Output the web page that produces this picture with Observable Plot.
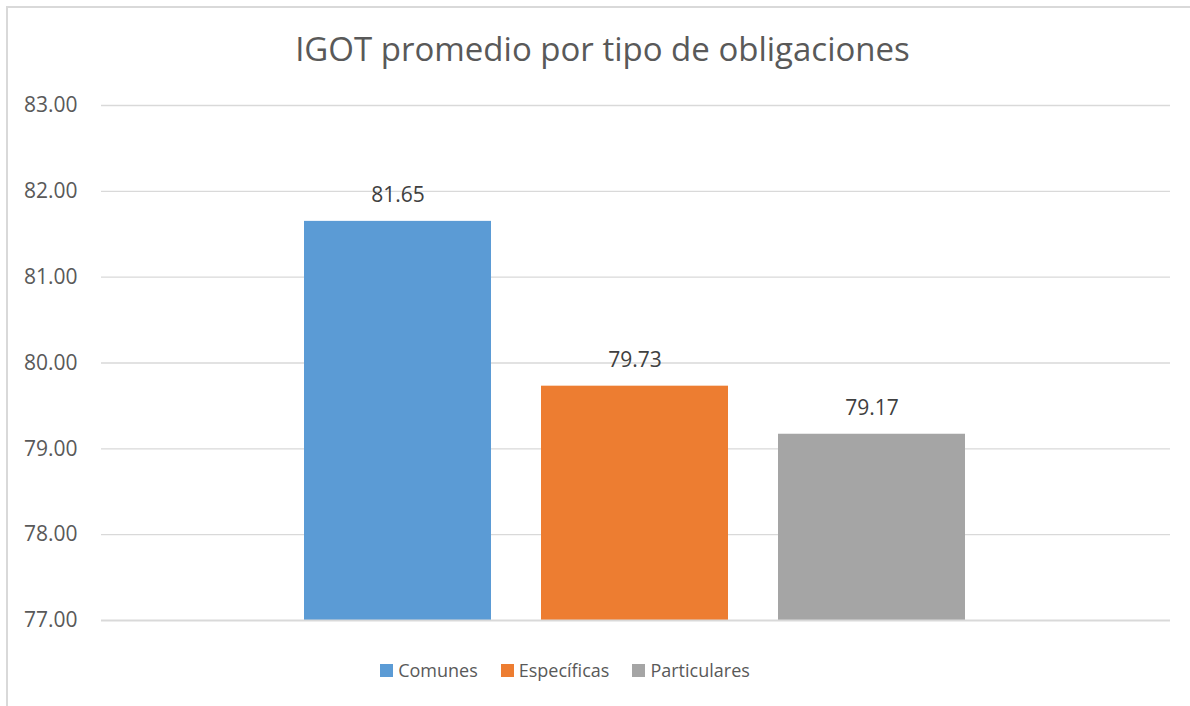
<!DOCTYPE html>
<html>
<head>
<meta charset="utf-8">
<script src="https://cdn.jsdelivr.net/npm/d3@7"></script>
<script src="https://cdn.jsdelivr.net/npm/@observablehq/plot@0.6"></script>
<style>
  html, body { margin: 0; padding: 0; background: #fff; }
  body { width: 1190px; height: 706px; overflow: hidden; position: relative; font-family: "Open Sans", Lato, sans-serif; }
  #frame { position: absolute; left: 6px; top: 6px; width: 1200px; height: 720px; border-left: 2px solid #d9d9d9; border-top: 2px solid #d9d9d9; box-sizing: border-box; }
  #title { position: absolute; left: 0; width: 1205px; top: 26px; text-align: center; font-size: 33px; color: #595959; letter-spacing: 0px; }
  #chart { position: absolute; left: 0; top: 0; }
  #legend { position: absolute; top: 658px; left: 0; width: 1130px; display: flex; justify-content: center; gap: 23px; font-size: 18px; color: #595959; }
  .item { display: flex; align-items: center; gap: 5px; }
  .sw { width: 13px; height: 13px; display: inline-block; }
</style>
</head>
<body>
<div id="frame"></div>
<div id="chart"></div>
<div id="title"></div>
<div id="legend"></div>
<script>
const titleText = "IGOT promedio por tipo de obligaciones";
const categories = ["Comunes", "Específicas", "Particulares"];
const values = [81.65, 79.73, 79.17];
const colors = ["#5B9BD5", "#ED7D31", "#A5A5A5"];
const yTicks = [77, 78, 79, 80, 81, 82, 83];

const data = categories.map((c, i) => ({cat: c, value: values[i]}));

document.getElementById("title").textContent = titleText;

const chart = Plot.plot({
  width: 1190,
  height: 706,
  marginLeft: 101,
  marginRight: 20,
  marginTop: 105,
  marginBottom: 86,
  style: {fontFamily: "'Open Sans', Lato, sans-serif", fontSize: "18px", color: "#595959", background: "transparent", overflow: "visible"},
  x: {domain: categories, range: [279, 990], paddingInner: 0.211, paddingOuter: 0.1055, axis: null},
  y: {domain: [77, 83], axis: null},
  color: {domain: categories, range: colors},
  marks: [
    Plot.ruleY(yTicks.filter(d => d !== 77), {stroke: "#d9d9d9", strokeWidth: 1.3}),
    Plot.barY(data, {x: "cat", y1: 77, y2: "value", fill: "cat"}),
    Plot.ruleY([77], {stroke: "#d9d9d9", strokeWidth: 2}),
    Plot.text(yTicks, {x: null, frameAnchor: "left", y: d => d, text: d => d.toFixed(2), textAnchor: "end", dx: -24, fill: "#595959", fontSize: 21}),
    Plot.text(data, {x: "cat", y: "value", text: d => d.value.toFixed(2), dy: -26, fill: "#404040", fontSize: 21})
  ]
});
document.getElementById("chart").appendChild(chart);

const legend = document.getElementById("legend");
categories.forEach((c, i) => {
  const item = document.createElement("div");
  item.className = "item";
  const sw = document.createElement("span");
  sw.className = "sw";
  sw.style.background = colors[i];
  const t = document.createElement("span");
  t.textContent = c;
  item.appendChild(sw);
  item.appendChild(t);
  legend.appendChild(item);
});
</script>
</body>
</html>
